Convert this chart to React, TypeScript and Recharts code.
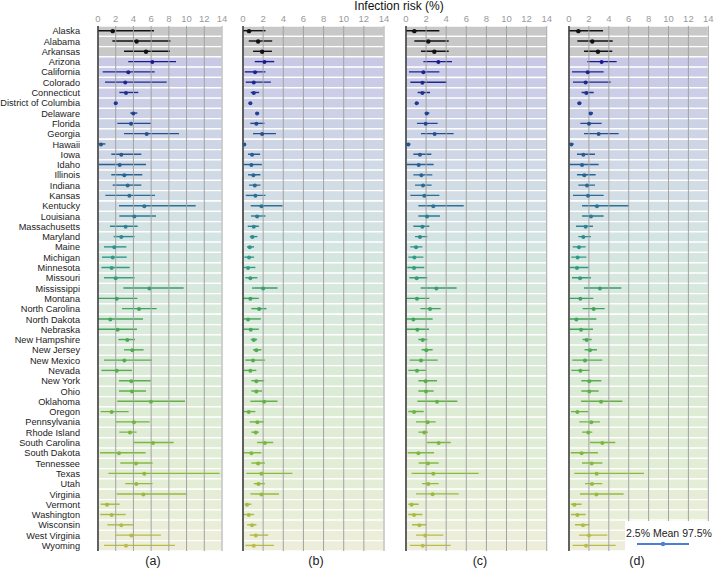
import React from 'react';
import { ComposedChart, XAxis, YAxis, Bar, Scatter, Cell, ReferenceArea, ReferenceLine } from 'recharts';

const states = [
  'Alaska', 'Alabama', 'Arkansas', 'Arizona', 'California', 'Colorado', 'Connecticut',
  'District of Columbia', 'Delaware', 'Florida', 'Georgia', 'Hawaii', 'Iowa', 'Idaho',
  'Illinois', 'Indiana', 'Kansas', 'Kentucky', 'Louisiana', 'Massachusetts', 'Maryland',
  'Maine', 'Michigan', 'Minnesota', 'Missouri', 'Mississippi', 'Montana', 'North Carolina',
  'North Dakota', 'Nebraska', 'New Hampshire', 'New Jersey', 'New Mexico', 'Nevada',
  'New York', 'Ohio', 'Oklahoma', 'Oregon', 'Pennsylvania', 'Rhode Island', 'South Carolina',
  'South Dakota', 'Tennessee', 'Texas', 'Utah', 'Virginia', 'Vermont', 'Washington',
  'Wisconsin', 'West Virginia', 'Wyoming',
];

const xTicks = [0, 2, 4, 6, 8, 10, 12, 14];
const gridTicks = [2, 4, 6, 8, 10, 12, 14];
const panelLabels = ['(a)', '(b)', '(c)', '(d)'];
const titleText = 'Infection risk (%)';
const legendText = '2.5% Mean 97.5%';

// Panel (a)
const meanA = [1.66, 4.36, 5.42, 6.13, 3.42, 3.08, 3.16, 2.0, 3.99, 3.73, 5.5, 0.34, 2.63, 2.45, 2.97, 3.35, 3.54, 5.23, 4.1, 3.12, 2.63, 1.84, 1.66, 1.54, 2.0, 5.8, 2.11, 4.63, 1.39, 2.22, 3.31, 3.88, 2.97, 2.11, 3.76, 3.84, 5.98, 1.54, 4.06, 3.61, 6.21, 2.37, 4.29, 5.23, 4.33, 5.12, 1.02, 1.54, 2.63, 3.76, 3.16];
const lowA = [0, 1.62, 2.94, 3.42, 0.53, 0.79, 2.41, 1.8, 3.65, 2.18, 2.94, 0.04, 1.5, 0.11, 1.5, 1.66, 0.83, 2.37, 2.41, 1.35, 1.77, 0.68, 0.45, 0.38, 0.68, 2.86, 0.04, 2.71, 0.0, 0.0, 2.3, 2.94, 0.68, 0.38, 2.37, 2.37, 2.18, 0.3, 1.96, 2.41, 3.99, 0.23, 2.52, 1.17, 3.08, 2.11, 0.3, 0.26, 1.05, 2.03, 0.68];
const highA = [6.32, 8.17, 8.13, 8.81, 6.4, 7.75, 4.55, 2.2, 4.44, 5.98, 9.15, 0.83, 4.89, 5.42, 5.0, 4.89, 6.44, 11.03, 6.55, 4.48, 4.13, 3.2, 3.24, 3.58, 4.13, 9.67, 4.44, 6.62, 5.08, 4.4, 4.18, 5.15, 6.1, 3.84, 5.95, 5.42, 9.82, 3.46, 5.83, 4.36, 8.54, 5.38, 6.17, 13.73, 6.17, 10.05, 2.45, 3.12, 3.95, 7.11, 8.69];

// Panel (b)
const meanB = [0.6, 1.5, 1.9, 2.13, 1.2, 1.07, 1.07, 0.73, 1.4, 1.33, 1.9, 0.13, 0.9, 0.83, 1.03, 1.17, 1.23, 1.83, 1.4, 1.07, 0.93, 0.67, 0.6, 0.5, 0.73, 2.0, 0.73, 1.6, 0.5, 0.77, 1.07, 1.33, 1.0, 0.73, 1.33, 1.33, 2.1, 0.57, 1.43, 1.27, 2.17, 0.83, 1.5, 1.83, 1.53, 1.83, 0.4, 0.57, 0.9, 1.27, 1.07];
const lowB = [0, 0.57, 1.0, 1.17, 0.17, 0.27, 0.77, 0.57, 1.23, 0.73, 1.0, 0, 0.5, 0.07, 0.5, 0.6, 0.27, 0.77, 0.8, 0.47, 0.67, 0.4, 0.13, 0.07, 0.23, 0.9, 0, 0.83, 0.07, 0.07, 0.77, 1.0, 0.23, 0.07, 0.83, 0.83, 0.73, 0.1, 0.67, 0.83, 1.4, 0.07, 0.83, 0.33, 1.07, 0.73, 0.17, 0.07, 0.4, 0.67, 0.23];
const highB = [2.23, 2.9, 2.87, 3.1, 2.23, 2.77, 1.6, 0.9, 1.6, 2.13, 3.27, 0.27, 1.7, 1.87, 1.73, 1.73, 2.23, 3.93, 2.23, 1.57, 1.43, 1.1, 1.1, 1.23, 1.43, 3.43, 1.57, 2.33, 1.77, 1.57, 1.4, 1.83, 2.17, 1.33, 2.1, 1.9, 3.43, 1.23, 2.07, 1.57, 3.0, 1.83, 2.17, 4.9, 2.17, 3.57, 0.83, 1.1, 1.33, 2.5, 3.07];

// Panel (c)
const meanC = [0.83, 2.22, 2.82, 3.22, 1.73, 1.63, 1.63, 1.06, 2.06, 1.96, 2.85, 0.23, 1.39, 1.26, 1.53, 1.69, 1.82, 2.72, 2.09, 1.63, 1.39, 1.0, 0.83, 0.8, 1.06, 3.02, 1.09, 2.39, 0.73, 1.13, 1.66, 2.02, 1.49, 1.09, 1.96, 1.99, 3.09, 0.8, 2.16, 1.82, 3.25, 1.23, 2.19, 2.72, 2.22, 2.65, 0.56, 0.8, 1.33, 1.92, 1.66];
const lowC = [0, 0.83, 1.49, 1.73, 0.3, 0.43, 1.16, 0.9, 1.86, 1.09, 1.49, 0, 0.73, 0.07, 0.73, 0.9, 0.43, 1.23, 1.23, 0.73, 0.9, 0.43, 0.23, 0.13, 0.33, 1.46, 0.07, 1.43, 0.07, 0.07, 1.23, 1.56, 0.36, 0.23, 1.23, 1.23, 1.13, 0.23, 1.0, 1.23, 2.06, 0.17, 1.26, 0.56, 1.59, 1.0, 0.23, 0.23, 0.6, 1.0, 0.4];
const highC = [3.32, 4.25, 4.25, 4.58, 3.32, 4.05, 2.39, 1.26, 2.32, 3.15, 4.74, 0.43, 2.52, 2.75, 2.62, 2.55, 3.32, 5.74, 3.38, 2.32, 2.12, 1.63, 1.73, 1.82, 2.12, 5.04, 2.32, 3.45, 2.65, 2.29, 2.12, 2.65, 3.15, 1.99, 3.09, 2.75, 5.11, 1.76, 2.95, 2.19, 4.45, 2.79, 3.25, 7.23, 3.25, 5.24, 1.26, 1.63, 2.02, 3.72, 4.45];

// Panel (d)
const meanD = [0.94, 2.34, 2.91, 3.28, 1.88, 1.67, 1.74, 1.04, 2.18, 2.01, 2.98, 0.23, 1.44, 1.31, 1.54, 1.81, 1.91, 2.81, 2.21, 1.67, 1.44, 1.0, 0.87, 0.8, 1.11, 3.11, 1.14, 2.48, 0.74, 1.21, 1.77, 2.11, 1.61, 1.14, 2.04, 2.04, 3.22, 0.84, 2.24, 1.94, 3.35, 1.27, 2.28, 2.78, 2.31, 2.75, 0.54, 0.84, 1.41, 2.01, 1.71];
const lowD = [0, 0.84, 1.51, 1.84, 0.3, 0.4, 1.27, 0.87, 1.98, 1.14, 1.51, 0, 0.8, 0.07, 0.8, 0.94, 0.4, 1.31, 1.31, 0.7, 0.94, 0.37, 0.23, 0.1, 0.3, 1.51, 0.07, 1.37, 0.07, 0.07, 1.37, 1.57, 0.33, 0.23, 1.24, 1.24, 1.21, 0.2, 1.04, 1.31, 2.11, 0.17, 1.31, 0.54, 1.61, 1.11, 0.2, 0.2, 0.6, 1.0, 0.37];
const highD = [3.42, 4.39, 4.35, 4.79, 3.48, 4.19, 2.48, 1.24, 2.41, 3.28, 4.99, 0.47, 2.61, 2.98, 2.68, 2.61, 3.48, 6.03, 3.48, 2.41, 2.21, 1.67, 1.74, 1.98, 2.21, 5.26, 2.44, 3.58, 2.75, 2.41, 2.28, 2.81, 3.35, 2.08, 3.25, 2.98, 5.36, 1.94, 3.11, 2.34, 4.65, 2.91, 3.35, 7.54, 3.35, 5.49, 1.27, 1.67, 2.04, 3.85, 4.69];

// ---- styling ----
const FONT = '"Liberation Sans", Arial, Helvetica, sans-serif';

const pointAnchors: [number, string][] = [
  [3, '#1a1a8e'], [10, '#25508f'], [17, '#2b7396'], [22, '#2f9a8a'],
  [27, '#3fa35c'], [35, '#5fb04a'], [43, '#8cba3c'], [50, '#bcbb48'],
];
const bgAnchors: [number, string][] = [
  [3, '#c9c9e6'], [10, '#cdd4e6'], [17, '#d3dfe5'], [22, '#d5e6e1'],
  [27, '#d9e9dc'], [35, '#dcebd6'], [43, '#e3edd6'], [50, '#edeed9'],
];

function hexRgb(h: string) {
  return [parseInt(h.slice(1, 3), 16), parseInt(h.slice(3, 5), 16), parseInt(h.slice(5, 7), 16)];
}
function ramp(anchors: [number, string][], i: number) {
  for (let k = 0; k < anchors.length - 1; k++) {
    const [i0, c0] = anchors[k];
    const [i1, c1] = anchors[k + 1];
    if (i >= i0 && i <= i1) {
      const t = (i - i0) / (i1 - i0);
      const a = hexRgb(c0);
      const b = hexRgb(c1);
      const m = a.map((v, j) => Math.round(v + (b[j] - v) * t));
      return `rgb(${m[0]},${m[1]},${m[2]})`;
    }
  }
  return anchors[anchors.length - 1][1];
}

const pointColors = states.map((_, i) => (i < 3 ? '#111111' : ramp(pointAnchors, i)));
const bgColors = states.map((_, i) => (i < 3 ? '#c8c8c8' : ramp(bgAnchors, i)));

const CHART_H = 569;
const X_AXIS_H = 26;
const BOTTOM = 18;

type PanelProps = {
  mean: number[];
  low: number[];
  high: number[];
  x0: number;
  x14: number;
  showLabels: boolean;
};

const dotShape = (props: any) => {
  const { cx, cy, payload } = props;
  if (cx == null || cy == null) return null;
  const i = states.indexOf(payload.state);
  return <circle cx={cx} cy={cy} r={i < 3 ? 2.2 : 2.0} fill={pointColors[i]} />;
};

const StateTick = (props: any) => {
  const { x, y, payload } = props;
  return (
    <text x={x} y={y} dy="0.34em" textAnchor="end" fontSize={9.2} fill="#222" fontFamily={FONT}>
      {payload.value}
    </text>
  );
};

function Panel({ mean, low, high, x0, x14, showLabels }: PanelProps) {
  const data = states.map((s, i) => ({ state: s, mean: mean[i], range: [low[i], high[i]] }));
  const left = showLabels ? 0 : x0 - 8;
  const width = x14 + 8 - left;
  return (
    <div style={{ position: 'absolute', left, top: 0 }}>
      <ComposedChart
        width={width}
        height={CHART_H}
        data={data}
        layout="vertical"
        margin={{ top: 0, right: 8, bottom: BOTTOM, left: showLabels ? 0 : 8 }}
      >
        <XAxis
          type="number"
          domain={[0, 14]}
          ticks={xTicks}
          orientation="top"
          height={X_AXIS_H}
          axisLine={false}
          tickLine={false}
          tickSize={0}
          tickMargin={4}
          interval={0}
          allowDataOverflow
          tick={{ fill: '#9a9a9a', fontSize: 9.5, fontFamily: FONT }}
        />
        <YAxis
          type="category"
          dataKey="state"
          width={showLabels ? x0 : 0}
          hide={!showLabels}
          axisLine={false}
          tickLine={false}
          tickSize={0}
          tickMargin={18}
          interval={0}
          tick={<StateTick />}
        />
        {states.map((s, i) => (
          <ReferenceArea
            key={`bg-${s}`}
            y1={s}
            y2={s}
            x1={0}
            x2={14}
            fill={bgColors[i]}
            fillOpacity={1}
            stroke="#ffffff"
            strokeWidth={1.3}
            ifOverflow="visible"
          />
        ))}
        {gridTicks.map((t) => (
          <ReferenceLine key={`g-${t}`} x={t} stroke="#a3a3a3" strokeWidth={1} />
        ))}
        <ReferenceLine x={0} stroke="#3a3a3a" strokeWidth={1.6} />
        <Bar dataKey="range" barSize={1.4} isAnimationActive={false}>
          {states.map((s, i) => (
            <Cell key={`c-${s}`} fill={pointColors[i]} />
          ))}
        </Bar>
        <Scatter dataKey="mean" isAnimationActive={false} shape={dotShape} />
      </ComposedChart>
    </div>
  );
}

const panels = [
  { mean: meanA, low: lowA, high: highA, x0: 98, x14: 222, showLabels: true, labelX: 153 },
  { mean: meanB, low: lowB, high: highB, x0: 243.3, x14: 384.3, showLabels: false, labelX: 316 },
  { mean: meanC, low: lowC, high: highC, x0: 406, x14: 546.7, showLabels: false, labelX: 480 },
  { mean: meanD, low: lowD, high: highD, x0: 569, x14: 708.3, showLabels: false, labelX: 637 },
];

export default function App() {
  return (
    <div
      style={{
        position: 'absolute',
        left: 0,
        top: 0,
        width: 715,
        height: 569,
        background: '#ffffff',
        overflow: 'hidden',
        fontFamily: FONT,
      }}
    >
      {panels.map((p, k) => (
        <Panel key={k} mean={p.mean} low={p.low} high={p.high} x0={p.x0} x14={p.x14} showLabels={p.showLabels} />
      ))}
      <div
        style={{
          position: 'absolute',
          left: 625,
          top: 521,
          width: 90,
          height: 30,
          background: '#ffffff',
        }}
      />
      <svg
        width={715}
        height={569}
        style={{ position: 'absolute', left: 0, top: 0, pointerEvents: 'none' }}
      >
        <text x={399} y={9.8} textAnchor="middle" fontSize={12} fill="#111" fontFamily={FONT}>
          {titleText}
        </text>
        {panels.map((p, k) => (
          <text key={k} x={p.labelX} y={565} textAnchor="middle" fontSize={12.5} fill="#222" fontFamily={FONT}>
            {panelLabels[k]}
          </text>
        ))}
        <text x={669} y={536.8} textAnchor="middle" fontSize={10.5} fill="#222" fontFamily={FONT}>
          {legendText}
        </text>
        <line x1={637} y1={544} x2={689} y2={544} stroke="#4a7fd4" strokeWidth={2} />
        <circle cx={663} cy={544} r={2.2} fill="#4a7fd4" />
      </svg>
    </div>
  );
}
